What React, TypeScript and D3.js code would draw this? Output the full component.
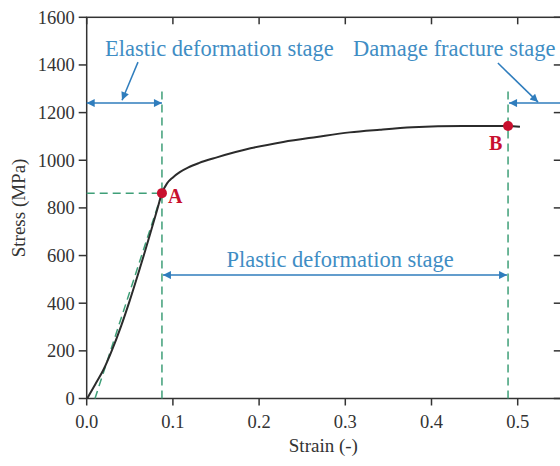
import React from "react";
import * as d3 from "d3";

// ---- data ----
const strain = [0.0005, 0.01, 0.02, 0.029, 0.04, 0.05, 0.06, 0.068, 0.075, 0.082, 0.0873, 0.093, 0.1, 0.108, 0.118, 0.13, 0.151, 0.19, 0.228, 0.267, 0.305, 0.34, 0.378, 0.436, 0.4888, 0.5026];
const stress = [0, 60, 125, 200, 305, 412, 527, 622, 708, 795, 862, 902, 928, 950, 970, 988, 1012, 1050, 1077, 1098, 1117, 1128, 1138, 1144, 1144, 1141];
const xTicks = [0, 0.1, 0.2, 0.3, 0.4, 0.5];
const yTicks = [0, 200, 400, 600, 800, 1000, 1200, 1400, 1600];
const pointA = { x: 0.0873, y: 862, label: "A" };
const pointB = { x: 0.4888, y: 1144, label: "B" };
const elasticStart = 0.0096; // green elastic fit line starts here at zero stress
const stageLineTop = 1300;
const stageArrowY = 1240;
const plasticArrowY = 518;
const stageTexts = ["Elastic deformation stage", "Plastic deformation stage", "Damage fracture stage"];

const W = 560, H = 466;
const FONT = "'Liberation Serif', 'Times New Roman', serif";
const AXIS = "#333";
const GREEN = "#3f9f78";
const BLUE = "#2f7dbd";
const TBLUE = "#3f8dc4";
const RED = "#c8102e";

export default function App() {
  const x = d3.scaleLinear().domain([0, 0.55]).range([86.7, 560.8]);
  const y = d3.scaleLinear().domain([0, 1600]).range([398.5, 17.3]);
  const pts = strain.map((s, i) => [s, stress[i]] as [number, number]);
  const line = d3.line<[number, number]>().x(d => x(d[0])).y(d => y(d[1])).curve(d3.curveMonotoneX);
  const x0 = x(0), x1 = 560.8, y0 = y(0), y1 = y(1600);

  return (
    <svg width={W} height={H} style={{ position: "absolute", left: 0, top: 0, background: "#fff" }} fontFamily={FONT}>
      <defs>
        <marker id="ah" viewBox="0 0 10 10" refX="10" refY="5" markerWidth="10" markerHeight="8" markerUnits="userSpaceOnUse" orient="auto-start-reverse">
          <path d="M0,0 L10,5 L0,10 z" fill={BLUE} />
        </marker>
      </defs>
      {/* frame */}
      <rect x={x0} y={y1} width={x1 - x0} height={y0 - y1} fill="none" stroke={AXIS} strokeWidth={1.5} />
      {/* y ticks */}
      {yTicks.map(t => (
        <g key={"y" + t}>
          <line x1={x0 - 8} x2={x0} y1={y(t)} y2={y(t)} stroke={AXIS} strokeWidth={1.5} />
          <line x1={x1 - 7} x2={x1} y1={y(t)} y2={y(t)} stroke={AXIS} strokeWidth={1.5} />
          <text x={x0 - 12} y={y(t)} dy="0.35em" textAnchor="end" fontSize={18.5} fill={AXIS}>{t}</text>
        </g>
      ))}
      {/* x ticks */}
      {xTicks.map(t => (
        <g key={"x" + t}>
          <line x1={x(t)} x2={x(t)} y1={y0} y2={y0 + 7} stroke={AXIS} strokeWidth={1.5} />
          <line x1={x(t)} x2={x(t)} y1={y1} y2={y1 + 7} stroke={AXIS} strokeWidth={1.5} />
          <text x={x(t)} y={428} textAnchor="middle" fontSize={18.5} fill={AXIS}>{t.toFixed(1)}</text>
        </g>
      ))}
      <text x={(x0 + 560) / 2} y={452} textAnchor="middle" fontSize={19} fill={AXIS}>Strain (-)</text>
      <text transform={`translate(25,${(y0 + y1) / 2}) rotate(-90)`} textAnchor="middle" fontSize={19} fill={AXIS}>Stress (MPa)</text>

      {/* dashed guide lines */}
      <line x1={x(pointA.x)} x2={x(pointA.x)} y1={y0} y2={y(stageLineTop)} stroke={GREEN} strokeWidth={1.5} strokeDasharray="8 5" />
      <line x1={x(pointB.x)} x2={x(pointB.x)} y1={y0} y2={y(stageLineTop)} stroke={GREEN} strokeWidth={1.5} strokeDasharray="8 5" />
      <line x1={x0} x2={x(pointA.x)} y1={y(pointA.y)} y2={y(pointA.y)} stroke={GREEN} strokeWidth={1.5} strokeDasharray="8 5" />
      <line x1={x(elasticStart)} x2={x(pointA.x)} y1={y0} y2={y(pointA.y)} stroke={GREEN} strokeWidth={1.5} strokeDasharray="8 5" />

      {/* curve */}
      <path d={line(pts) || ""} fill="none" stroke="#2b2b2b" strokeWidth={2} />

      {/* stage arrows */}
      <line x1={x(0)} x2={x(pointA.x)} y1={y(stageArrowY)} y2={y(stageArrowY)} stroke={BLUE} strokeWidth={1.5} markerStart="url(#ah)" markerEnd="url(#ah)" />
      <line x1={x(pointA.x) + 1} x2={x(pointB.x) - 1} y1={y(plasticArrowY)} y2={y(plasticArrowY)} stroke={BLUE} strokeWidth={1.5} markerStart="url(#ah)" markerEnd="url(#ah)" />
      <line x1={x(0.55)} x2={x(pointB.x) + 1} y1={y(stageArrowY)} y2={y(stageArrowY)} stroke={BLUE} strokeWidth={1.5} markerEnd="url(#ah)" />
      {/* pointers */}
      <line x1={x(0.0595)} y1={y(1412)} x2={x(0.041)} y2={y(1252)} stroke={BLUE} strokeWidth={1.5} markerEnd="url(#ah)" />
      <line x1={x(0.477)} y1={y(1408)} x2={x(0.5236)} y2={y(1244)} stroke={BLUE} strokeWidth={1.5} markerEnd="url(#ah)" />

      {/* stage texts */}
      <text x={x(0.0212)} y={y(1437)} fontSize={22.5} fill={TBLUE}>{stageTexts[0]}</text>
      <text x={x(0.294)} y={y(552)} textAnchor="middle" fontSize={22.5} fill={TBLUE}>{stageTexts[1]}</text>
      <text x={x(0.309)} y={y(1437)} fontSize={22.5} fill={TBLUE}>{stageTexts[2]}</text>

      {/* points */}
      <circle cx={x(pointA.x)} cy={y(pointA.y)} r={5} fill={RED} />
      <circle cx={x(pointB.x)} cy={y(pointB.y)} r={5} fill={RED} />
      <text x={x(pointA.x) + 6} y={y(pointA.y) + 10} fontSize={20} fontWeight="bold" fill={RED}>{pointA.label}</text>
      <text x={x(pointB.x) - 19} y={y(pointB.y) + 24} fontSize={20} fontWeight="bold" fill={RED}>{pointB.label}</text>
    </svg>
  );
}
